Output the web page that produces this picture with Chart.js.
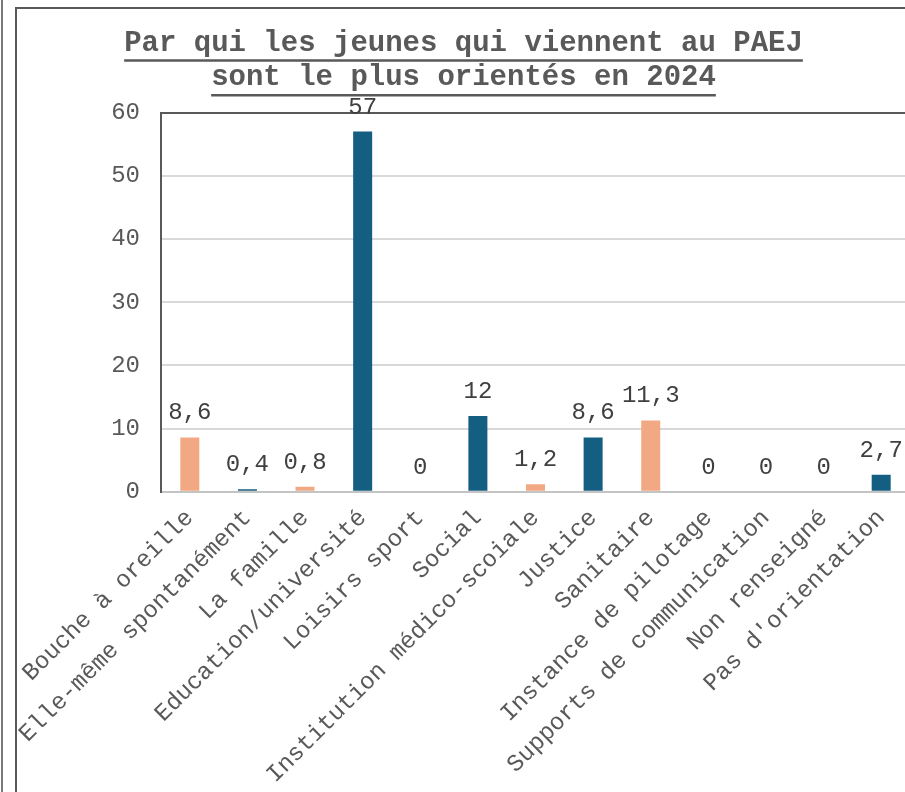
<!DOCTYPE html>
<html>
<head>
<meta charset="utf-8">
<script src="https://cdn.jsdelivr.net/npm/chart.js@4/dist/chart.umd.min.js"></script>
<style>
  html, body { margin: 0; padding: 0; background: #ffffff; overflow: hidden; width: 905px; height: 792px; }
  #outer { position: absolute; left: 1px; top: 0; width: 0; height: 800px; border-left: 2px solid #7a7a7a; }
  #frame { position: absolute; left: 15px; top: 7px; width: 940px; height: 840px; border: 2px solid #595959; background: #fff; }
  #c { position: absolute; left: 17px; top: 9px; }
</style>
</head>
<body>
<div id="outer"></div>
<div id="frame"></div>
<canvas id="c" width="900" height="792"></canvas>
<script>
const titleLines = ["Par qui les jeunes qui viennent au PAEJ", "sont le plus orientés en 2024"];
const categories = [
  "Bouche à oreille",
  "Elle-même spontanément",
  "La famille",
  "Education/université",
  "Loisirs sport",
  "Social",
  "Institution médico-scoiale",
  "Justice",
  "Sanitaire",
  "Instance de pilotage",
  "Supports de communication",
  "Non renseigné",
  "Pas d'orientation"
];
const values = [8.6, 0.4, 0.8, 57, 0, 12, 1.2, 8.6, 11.3, 0, 0, 0, 2.7];
const ORANGE = "#f2a983";
const BLUE = "#145f81";
const barColors = [ORANGE, BLUE, ORANGE, BLUE, ORANGE, BLUE, ORANGE, BLUE, ORANGE, BLUE, ORANGE, BLUE, BLUE];
const yTicks = [0, 10, 20, 30, 40, 50, 60];

const FONT = "'Liberation Mono', 'DejaVu Sans Mono', monospace";

const valueLabels = {
  id: 'valueLabels',
  afterDraw(chart) {
    const ctx = chart.ctx;
    const meta = chart.getDatasetMeta(0);
    ctx.save();
    ctx.font = "24px " + FONT;
    ctx.fillStyle = "#404040";
    ctx.textAlign = "center";
    ctx.textBaseline = "alphabetic";
    meta.data.forEach((bar, i) => {
      const txt = String(values[i]).replace('.', ',');
      ctx.fillText(txt, bar.x, bar.y - 18);
    });
    ctx.restore();
  }
};

const titleUnderline = {
  id: 'titleUnderline',
  afterDraw(chart) {
    const tb = chart.titleBlock;
    if (!tb) return;
    const ctx = chart.ctx;
    const opts = chart.options.plugins.title;
    const size = opts.font.size;
    const lh = size * opts.font.lineHeight;
    ctx.save();
    ctx.font = "bold " + size + "px " + FONT;
    ctx.strokeStyle = "#595959";
    ctx.lineWidth = 2.5;
    const cx = (tb.left + tb.right) / 2;
    titleLines.forEach((line, i) => {
      const w = ctx.measureText(line).width;
      const yMid = tb.top + opts.padding.top + lh / 2 + i * lh;
      const y = yMid + 17;
      ctx.beginPath();
      ctx.moveTo(cx - w / 2, y);
      ctx.lineTo(cx + w / 2, y);
      ctx.stroke();
    });
    ctx.restore();
  }
};

new Chart(document.getElementById('c'), {
  type: 'bar',
  data: {
    labels: categories,
    datasets: [{
      data: values,
      backgroundColor: barColors,
      borderWidth: 0,
      barPercentage: 0.33,
      categoryPercentage: 1.0
    }]
  },
  options: {
    responsive: false,
    animation: false,
    layout: { padding: { left: 0, right: 7, top: 0, bottom: 0 } },
    plugins: {
      legend: { display: false },
      tooltip: { enabled: false },
      title: {
        display: true,
        text: titleLines,
        color: "#595959",
        font: { family: FONT, size: 29, weight: 'bold', lineHeight: 1.2 },
        padding: { top: 17, bottom: 17 }
      }
    },
    scales: {
      x: {
        grid: { display: false, drawTicks: false },
        border: { display: true, color: "#c4c4c4", width: 2 },
        afterFit(axis) { axis.paddingLeft = 0; axis.paddingRight = 0; },
        ticks: {
          autoSkip: false,
          maxRotation: 45,
          minRotation: 45,
          color: "#595959",
          padding: 12,
          font: { family: FONT, size: 24 }
        }
      },
      y: {
        min: 0,
        max: 60,
        afterBuildTicks(axis) { axis.ticks = yTicks.map(v => ({ value: v })); },
        afterFit(axis) { axis.width = 144; },
        grid: {
          drawTicks: false,
          lineWidth: 2,
          color: (c) => (c.tick && c.tick.value === 60) ? "#595959" : "#d9d9d9"
        },
        border: { display: true, color: "#595959", width: 2 },
        ticks: {
          color: "#595959",
          padding: 21,
          font: { family: FONT, size: 24 }
        }
      }
    }
  },
  plugins: [valueLabels, titleUnderline]
});
</script>
</body>
</html>
